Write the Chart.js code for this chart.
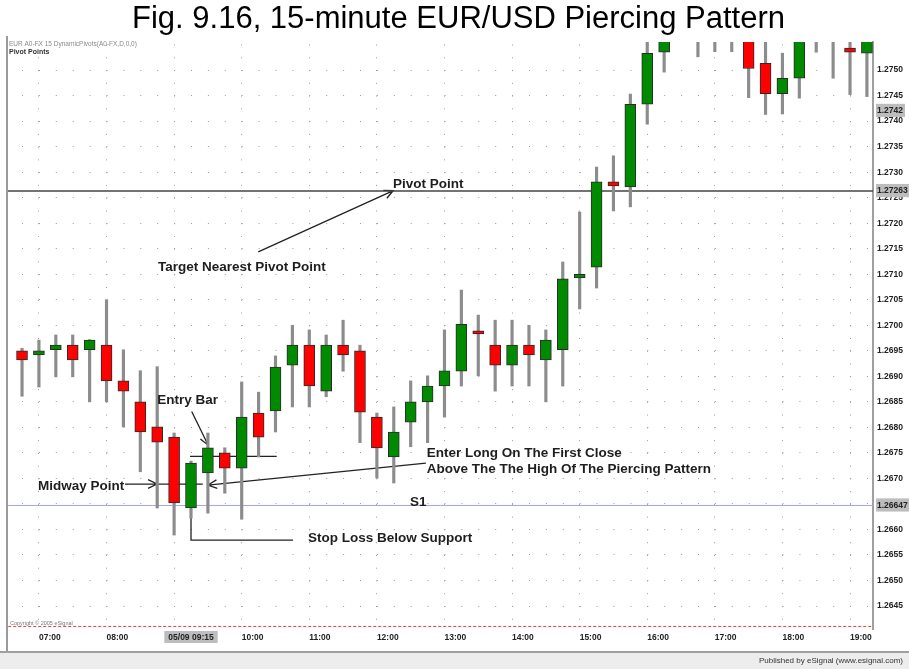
<!DOCTYPE html>
<html>
<head>
<meta charset="utf-8">
<script src="https://cdn.jsdelivr.net/npm/chart.js@4.4.1/dist/chart.umd.min.js"></script>
<style>
  html, body { margin: 0; padding: 0; background: #fff; }
</style>
</head>
<body>
<canvas id="candleChart" width="909" height="669"></canvas>
<script>
// 15-minute EUR/USD bars, 06:45 .. 19:15
const times = [
  "06:45", "07:00", "07:15", "07:30", "07:45", "08:00", "08:15", "08:30", "08:45",
  "09:00", "09:15", "09:30", "09:45", "10:00", "10:15", "10:30", "10:45",
  "11:00", "11:15", "11:30", "11:45", "12:00", "12:15", "12:30", "12:45",
  "13:00", "13:15", "13:30", "13:45", "14:00", "14:15", "14:30", "14:45",
  "15:00", "15:15", "15:30", "15:45", "16:00", "16:15", "16:30", "16:45",
  "17:00", "17:15", "17:30", "17:45", "18:00", "18:15", "18:30", "18:45",
  "19:00", "19:15"
];
const opens = [
  1.26950, 1.26942, 1.26952, 1.26961, 1.26952, 1.26961, 1.26891, 1.26850, 1.26801,
  1.26781, 1.26642, 1.26711, 1.26750, 1.26720, 1.26828, 1.26832, 1.26922,
  1.26961, 1.26871, 1.26961, 1.26950, 1.26820, 1.26742, 1.26810, 1.26850,
  1.26881, 1.26910, 1.26989, 1.26961, 1.26922, 1.26961, 1.26932, 1.26952,
  1.27093, 1.27114, 1.27281, 1.27271, 1.27433, 1.27535, 1.27580, 1.27570,
  1.27580, 1.27590, 1.27570, 1.27513, 1.27454, 1.27484, 1.27570, 1.27575,
  1.27543, 1.27533
];
const highs = [
  1.26955, 1.26971, 1.26981, 1.26981, 1.26972, 1.27050, 1.26952, 1.26911, 1.26919,
  1.26789, 1.26734, 1.26789, 1.26760, 1.26889, 1.26869, 1.26940, 1.27000,
  1.26991, 1.26981, 1.27010, 1.26961, 1.26828, 1.26840, 1.26891, 1.26901,
  1.26991, 1.27069, 1.27020, 1.27010, 1.27010, 1.27000, 1.26991, 1.27124,
  1.27222, 1.27310, 1.27332, 1.27453, 1.27565, 1.27590, 1.27610, 1.27600,
  1.27610, 1.27610, 1.27590, 1.27560, 1.27533, 1.27590, 1.27590, 1.27585,
  1.27565, 1.27580
];
const lows = [
  1.26861, 1.26879, 1.26899, 1.26899, 1.26850, 1.26850, 1.26801, 1.26713, 1.26642,
  1.26589, 1.26622, 1.26632, 1.26671, 1.26620, 1.26742, 1.26791, 1.26840,
  1.26840, 1.26860, 1.26910, 1.26770, 1.26701, 1.26691, 1.26762, 1.26770,
  1.26820, 1.26881, 1.26901, 1.26871, 1.26881, 1.26881, 1.26850, 1.26881,
  1.27032, 1.27073, 1.27224, 1.27232, 1.27394, 1.27496, 1.27570, 1.27526,
  1.27536, 1.27536, 1.27446, 1.27413, 1.27414, 1.27445, 1.27535, 1.27484,
  1.27452, 1.27448
];
const closes = [
  1.26932, 1.26950, 1.26961, 1.26932, 1.26971, 1.26891, 1.26871, 1.26791, 1.26771,
  1.26652, 1.26730, 1.26760, 1.26720, 1.26820, 1.26781, 1.26918, 1.26961,
  1.26881, 1.26961, 1.26942, 1.26830, 1.26760, 1.26791, 1.26850, 1.26881,
  1.26911, 1.27002, 1.26983, 1.26922, 1.26961, 1.26942, 1.26971, 1.27091,
  1.27100, 1.27281, 1.27273, 1.27433, 1.27533, 1.27575, 1.27600, 1.27580,
  1.27590, 1.27580, 1.27503, 1.27454, 1.27484, 1.27570, 1.27580, 1.27568,
  1.27535, 1.27570
];

// pivot levels
const pivotPoint = 1.27263;
const support1 = 1.26647;
const support2 = 1.26410;

// price axis ticks, plus the highlighted values eSignal boxes on the axis
const priceTicks = [
  1.2645, 1.2650, 1.2655, 1.2660, 1.2665, 1.2670, 1.2675, 1.2680, 1.2685, 1.2690, 1.2695,
  1.2700, 1.2705, 1.2710, 1.2715, 1.2720, 1.2725, 1.2730, 1.2735, 1.2740, 1.2745, 1.2750
];
const markedPrices = [1.2742, 1.27263, 1.26647];
const markedLabels = ["1.2742", "1.27263", "1.26647"];
const cursorTime = "09:15";
const cursorLabel = "05/09 09:15";

const hourIdx = times.map((t, i) => (t.endsWith(":00") ? i : -1)).filter((i) => i >= 0);

const bodyData = times.map((t, i) => ({ x: i, y: [opens[i], closes[i]] }));
const wickData = times.map((t, i) => ({ x: i, y: [lows[i], highs[i]] }));
const bodyColors = times.map((t, i) => (closes[i] >= opens[i] ? "#008a00" : "#ff0000"));

function levelLine(value, color, width, dash) {
  return {
    type: "line",
    data: [{ x: -2, y: value }, { x: times.length + 1, y: value }],
    borderColor: color,
    borderWidth: width,
    borderDash: dash,
    pointRadius: 0,
    order: 3,
  };
}

// hand-drawn notes, in chart coordinates (bar index, price)
const noteFont = 'bold 13.5px "Liberation Sans", Arial, sans-serif';
const noteTexts = [
  ["Pivot Point", 21.95, 1.27277],
  ["Target Nearest Pivot Point", 8.05, 1.27114],
  ["Entry Bar", 8.0, 1.26854],
  ["Midway Point", 0.95, 1.26685],
  ["Enter Long On The First Close", 23.95, 1.26749],
  ["Above The The High Of The Piercing Pattern", 23.95, 1.26718],
  ["S1", 22.96, 1.26653],
  ["Stop Loss Below Support", 16.92, 1.26583],
];
const noteArrows = [
  [13.98, 1.27144, 21.97, 1.27264],
  [10.04, 1.26831, 11.02, 1.26765],
  [6.09, 1.26689, 7.99, 1.26689],
  [23.9, 1.26730, 11.0, 1.26687],
];
const notePaths = [
  [[7.99, 1.26689], [10.7, 1.26689]],
  [[9.94, 1.26743], [15.07, 1.26743]],
  [[10.0, 1.26642], [10.0, 1.26579], [16.04, 1.26579]],
];

function arrow(ctx, x1, y1, x2, y2) {
  const a = Math.atan2(y2 - y1, x2 - x1);
  const h = 10;
  ctx.beginPath();
  ctx.moveTo(x1, y1);
  ctx.lineTo(x2, y2);
  ctx.moveTo(x2 - h * Math.cos(a - 0.45), y2 - h * Math.sin(a - 0.45));
  ctx.lineTo(x2, y2);
  ctx.lineTo(x2 - h * Math.cos(a + 0.45), y2 - h * Math.sin(a + 0.45));
  ctx.stroke();
}

const notesPlugin = {
  id: "notes",
  beforeDatasetsDraw(chart) {
    const { ctx } = chart;
    const sx = chart.scales.x;
    const sy = chart.scales.y;
    ctx.save();
    ctx.strokeStyle = "#222";
    ctx.lineWidth = 1.3;
    notePaths.forEach((p) => {
      ctx.beginPath();
      p.forEach(([x, y], k) => {
        const px = sx.getPixelForValue(x);
        const py = sy.getPixelForValue(y);
        if (k === 0) ctx.moveTo(px, py);
        else ctx.lineTo(px, py);
      });
      ctx.stroke();
    });
    noteArrows.forEach(([x1, y1, x2, y2]) => {
      arrow(ctx, sx.getPixelForValue(x1), sy.getPixelForValue(y1),
        sx.getPixelForValue(x2), sy.getPixelForValue(y2));
    });
    ctx.restore();
  },
  afterDatasetsDraw(chart) {
    const { ctx } = chart;
    const sx = chart.scales.x;
    const sy = chart.scales.y;
    ctx.save();
    ctx.font = noteFont;
    ctx.fillStyle = "#1e1e1e";
    ctx.textAlign = "left";
    ctx.textBaseline = "middle";
    noteTexts.forEach(([t, x, y]) => {
      ctx.fillText(t, sx.getPixelForValue(x), sy.getPixelForValue(y));
    });
    ctx.restore();
  },
  afterDraw(chart) {
    const { ctx, chartArea } = chart;
    const sx = chart.scales.x;
    ctx.save();
    // left frame
    ctx.strokeStyle = "#9a9a9a";
    ctx.lineWidth = 2;
    ctx.beginPath();
    ctx.moveTo(7, 36);
    ctx.lineTo(7, 652);
    ctx.stroke();
    // study header
    ctx.textAlign = "left";
    ctx.textBaseline = "middle";
    ctx.fillStyle = "#8a8a8a";
    ctx.font = '6.5px "Liberation Sans", Arial, sans-serif';
    ctx.fillText("EUR A0-FX 15 DynamicPivots(A0-FX,D,0,0)", 9, 44);
    ctx.fillStyle = "#333";
    ctx.font = 'bold 7px "Liberation Sans", Arial, sans-serif';
    ctx.fillText("Pivot Points", 9, 52);
    ctx.fillStyle = "#777";
    ctx.font = '5.5px "Liberation Sans", Arial, sans-serif';
    ctx.fillText("Copyright \u00a9 2005 eSignal", 10, chartArea.bottom - 6);
    // cursor time box on the time axis
    const cx = sx.getPixelForValue(times.indexOf(cursorTime));
    ctx.font = 'bold 8.5px "Liberation Sans", Arial, sans-serif';
    const w = ctx.measureText(cursorLabel).width + 8;
    ctx.fillStyle = "#bdbdbd";
    ctx.fillRect(cx - w / 2, chartArea.bottom + 2, w, 12);
    ctx.fillStyle = "#222";
    ctx.textAlign = "center";
    ctx.fillText(cursorLabel, cx, chartArea.bottom + 8.5);
    // status bar
    ctx.fillStyle = "#ededed";
    ctx.fillRect(0, 653, 909, 16);
    ctx.strokeStyle = "#a0a0a0";
    ctx.lineWidth = 2;
    ctx.beginPath();
    ctx.moveTo(0, 652);
    ctx.lineTo(909, 652);
    ctx.stroke();
    ctx.fillStyle = "#333";
    ctx.textAlign = "right";
    ctx.font = '8px "Liberation Sans", Arial, sans-serif';
    ctx.fillText("Published by eSignal (www.esignal.com)", 903, 661);
    ctx.restore();
  },
};

const ctx = document.getElementById("candleChart").getContext("2d");
new Chart(ctx, {
  type: "bar",
  data: {
    datasets: [
      {
        label: "Body",
        data: bodyData,
        backgroundColor: bodyColors,
        borderColor: "#2a2a2a",
        borderWidth: 1,
        borderSkipped: false,
        barThickness: 11,
        grouped: false,
        order: 1,
      },
      {
        label: "Range",
        data: wickData,
        backgroundColor: "#8c8c8c",
        borderWidth: 0,
        barThickness: 2.5,
        grouped: false,
        order: 2,
      },
      levelLine(pivotPoint, "#444", 1.5, []),
      levelLine(support1, "#a4a4f0", 1, []),
      levelLine(support2, "#e04040", 1, [3, 2]),
    ],
  },
  options: {
    responsive: false,
    animation: false,
    layout: { padding: { left: 8, right: 0, top: 0, bottom: 0 } },
    plugins: {
      legend: { display: false },
      tooltip: { enabled: false },
      title: {
        display: true,
        text: "Fig. 9.16, 15-minute EUR/USD Piercing Pattern",
        color: "#000",
        font: { family: '"Liberation Sans", Arial, sans-serif', size: 31, weight: "normal" },
        padding: { top: 1, bottom: 3.8 },
      },
    },
    scales: {
      x: {
        type: "linear",
        min: -0.83,
        max: 50.36,
        offset: false,
        afterBuildTicks: (axis) => {
          axis.ticks = hourIdx.map((v) => ({ value: v }));
        },
        afterFit: (axis) => {
          axis.height = 40;
        },
        grid: {
          offset: false,
          color: "#9c9c9c",
          lineWidth: 1,
          drawTicks: false,
        },
        border: { display: false, dash: [1, 11.76], dashOffset: 10.21 },
        ticks: {
          align: "start",
          autoSkip: false,
          maxRotation: 0,
          padding: 4,
          color: "#222",
          font: { family: '"Liberation Sans", Arial, sans-serif', size: 8.5, weight: "bold" },
          callback: (v) => times[v] || "",
        },
      },
      y: {
        type: "linear",
        position: "right",
        min: 1.26405,
        max: 1.27555,
        bounds: "data",
        afterBuildTicks: (axis) => {
          axis.ticks = priceTicks.concat(markedPrices).map((v) => ({ value: v }));
        },
        afterFit: (axis) => {
          axis.width = 36;
        },
        grid: {
          color: (c) => (c.tick && markedPrices.includes(c.tick.value) ? "rgba(0,0,0,0)" : "#9c9c9c"),
          lineWidth: 1,
          drawTicks: false,
        },
        border: { display: true, color: "#a0a0a0", width: 2, dash: [1, 15.9], dashOffset: 2.9 },
        ticks: {
          autoSkip: false,
          padding: 4,
          color: "#222",
          font: { family: '"Liberation Sans", Arial, sans-serif', size: 8.5, weight: "bold" },
          showLabelBackdrop: (c) => !!(c.tick && markedPrices.includes(c.tick.value)),
          backdropColor: "#bdbdbd",
          backdropPadding: { top: 2, bottom: 1, left: 1, right: 2 },
          callback: (v) => {
            const k = markedPrices.indexOf(v);
            return k >= 0 ? markedLabels[k] : v.toFixed(4);
          },
        },
      },
    },
  },
  plugins: [notesPlugin],
});
</script>
</body>
</html>
